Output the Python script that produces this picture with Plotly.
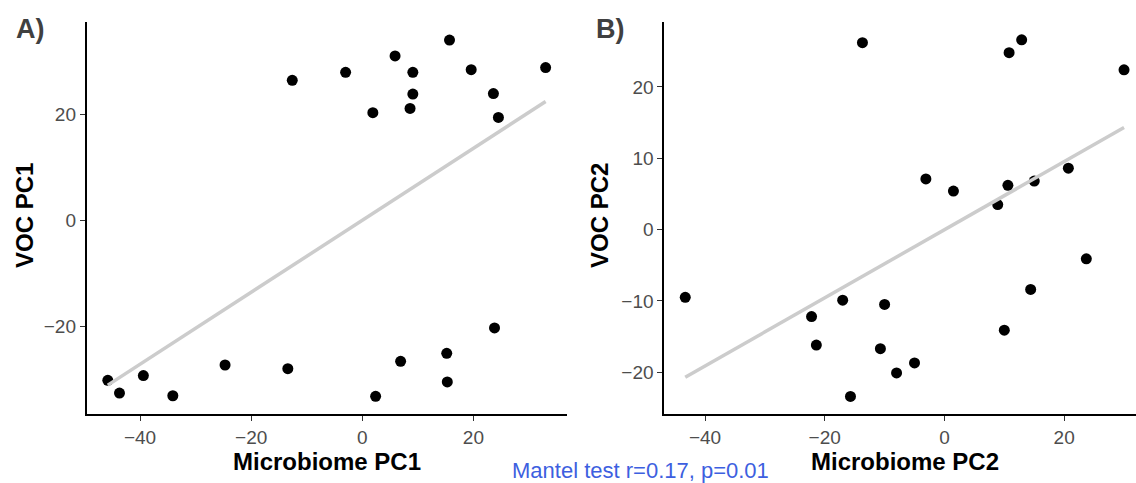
import plotly.graph_objects as go

# ---- Data ----
micro_pc1 = [-12.6, -3.0, 1.9, 5.9, 9.1, 9.1, 8.6, 15.7, 19.6, 23.6, 24.5, 33.0,
             -45.8, -43.7, -39.4, -34.1, -24.7, -13.4, 2.4, 6.9, 15.2, 15.3, 23.8]
voc_pc1 = [26.5, 28.0, 20.4, 31.1, 28.0, 23.9, 21.2, 34.1, 28.5, 24.0, 19.5, 28.9,
           -30.1, -32.5, -29.2, -33.0, -27.2, -27.9, -33.1, -26.5, -25.0, -30.4, -20.2]

micro_pc2 = [-13.7, 10.8, 12.9, 30.0, -3.1, 1.5, 10.6, 8.9, 15.0, 20.7,
             -43.3, -22.2, -21.4, -17.0, -10.0, -10.7, -8.0, -5.0, -15.7, 10.0, 14.4, 23.7]
voc_pc2 = [26.2, 24.8, 26.6, 22.4, 7.1, 5.4, 6.2, 3.5, 6.8, 8.6,
           -9.5, -12.2, -16.2, -9.9, -10.5, -16.7, -20.1, -18.7, -23.4, -14.1, -8.4, -4.1]

# fitted regression line end points (as drawn in the reference)
fit1_x = [-45.8, 33.0]
fit1_y = [-31.0, 22.5]
fit2_x = [-43.3, 30.0]
fit2_y = [-20.7, 14.3]

x_ticks = [-40, -20, 0, 20]
y1_ticks = [-20, 0, 20]
y2_ticks = [-20, -10, 0, 10, 20]

panel_labels = ["A)", "B)"]
x_titles = ["Microbiome PC1", "Microbiome PC2"]
y_titles = ["VOC PC1", "VOC PC2"]
mantel_text = "Mantel test r=0.17, p=0.01"

# ---- Figure ----
W, H = 1136, 483
FONT = "Liberation Sans, Arial, Helvetica, sans-serif"

def px_x(p):
    return p / W

def px_y(p):
    return 1 - p / H

fig = go.Figure()

fig.add_trace(go.Scatter(x=micro_pc1, y=voc_pc1, mode="markers",
                         marker=dict(color="black", size=11),
                         xaxis="x", yaxis="y", cliponaxis=False, showlegend=False))
fig.add_trace(go.Scatter(x=fit1_x, y=fit1_y, mode="lines",
                         line=dict(color="#CCCCCC", width=3.5),
                         xaxis="x", yaxis="y", showlegend=False))
fig.add_trace(go.Scatter(x=micro_pc2, y=voc_pc2, mode="markers",
                         marker=dict(color="black", size=11),
                         xaxis="x2", yaxis="y2", cliponaxis=False, showlegend=False))
fig.add_trace(go.Scatter(x=fit2_x, y=fit2_y, mode="lines",
                         line=dict(color="#CCCCCC", width=3.5),
                         xaxis="x2", yaxis="y2", showlegend=False))

axis_common = dict(
    showgrid=False, zeroline=False, showline=True, linecolor="black", linewidth=1.8,
    ticks="outside", ticklen=5, tickwidth=1.4, tickcolor="#333333",
    tickfont=dict(family=FONT, size=19, color="#4D4D4D"), mirror=False,
)

ydom = [px_y(414.3), px_y(22)]

fig.update_layout(
    width=W, height=H,
    margin=dict(l=0, r=0, t=0, b=0),
    paper_bgcolor="white", plot_bgcolor="white",
    xaxis=dict(domain=[px_x(86.7), px_x(567.3)], range=[-49.6, 36.9],
               tickvals=x_ticks, anchor="y", **axis_common),
    yaxis=dict(domain=ydom, range=[-36.5, 37.5], tickvals=y1_ticks,
               anchor="x", **axis_common),
    xaxis2=dict(domain=[px_x(664.3), 1.0], range=[-46.8, 32.0],
                tickvals=x_ticks, anchor="y2", **axis_common),
    yaxis2=dict(domain=ydom, range=[-25.9, 29.1], tickvals=y2_ticks,
                anchor="x2", **axis_common),
)

annotations = []
# panel labels
for lab, xp in zip(panel_labels, [14, 594]):
    annotations.append(dict(text=f"<b>{lab}</b>", x=px_x(xp), y=px_y(29), xref="paper", yref="paper",
                            xanchor="left", yanchor="middle", showarrow=False,
                            font=dict(family=FONT, size=27, color="#404040")))
# x titles
for t, xc in zip(x_titles, [327, 905]):
    annotations.append(dict(text=f"<b>{t}</b>", x=px_x(xc), y=px_y(461), xref="paper", yref="paper",
                            xanchor="center", yanchor="middle", showarrow=False,
                            font=dict(family=FONT, size=24, color="black")))
# y titles
for t, xc in zip(y_titles, [25, 600]):
    annotations.append(dict(text=f"<b>{t}</b>", x=px_x(xc), y=px_y(216), xref="paper", yref="paper",
                            xanchor="center", yanchor="middle", showarrow=False, textangle=-90,
                            font=dict(family=FONT, size=24, color="black")))
# mantel text
annotations.append(dict(text=mantel_text, x=px_x(640), y=px_y(470), xref="paper", yref="paper",
                        xanchor="center", yanchor="middle", showarrow=False,
                        font=dict(family=FONT, size=22, color="#3D5FE0")))
fig.update_layout(annotations=annotations)

fig.write_html("out.html", config={"displayModeBar": False},
               post_script="document.body.style.margin='0';document.body.style.overflow='hidden';")
